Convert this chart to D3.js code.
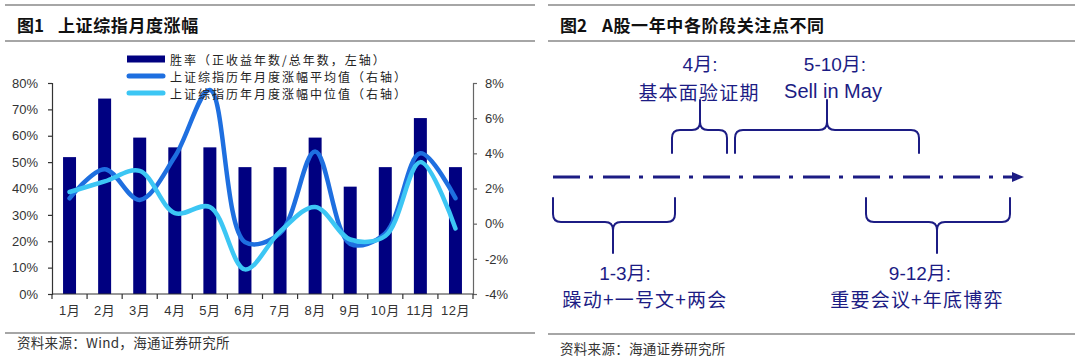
<!DOCTYPE html>
<html><head><meta charset="utf-8">
<script src="https://cdn.jsdelivr.net/npm/d3@7"></script>
<style>
html,body{margin:0;padding:0;background:#fff;}
svg{display:block;}
text{font-family:"Liberation Sans",Arial,"Noto Sans CJK SC",sans-serif;}
.cjk{font-family:"Noto Sans CJK SC","Liberation Sans",sans-serif;}
</style>
</head><body>
<svg id="chart" width="1080" height="360"></svg>
<script>
// ---------- data ----------
const months = ["1月","2月","3月","4月","5月","6月","7月","8月","9月","10月","11月","12月"];
const winRate = [0.519,0.741,0.593,0.556,0.556,0.481,0.481,0.593,0.407,0.481,0.667,0.481];
const meanChg = [1.44,3.1,1.35,3.8,7.6,-1.05,-0.55,4.1,-1.15,-0.55,4.0,1.45];
const medianChg = [1.8,2.4,3.0,0.6,0.95,-2.6,-0.45,0.95,-0.9,-0.7,3.5,-0.27];
const leftTicks = [0,0.1,0.2,0.3,0.4,0.5,0.6,0.7,0.8];
const rightTicks = [-4,-2,0,2,4,6,8];
const legendLabels = ["胜率（正收益年数/总年数，左轴）","上证综指历年月度涨幅平均值（右轴）","上证综指历年月度涨幅中位值（右轴）"];
const phaseTitles = ["1-3月:","4月:","5-10月:","9-12月:"];
const phaseDescs = ["躁动+一号文+两会","基本面验证期","Sell in May","重要会议+年底博弈"];

const svg = d3.select("#chart");
const C_BAR = "#000080", C_MEAN = "#1e6fe0", C_MED = "#3cc6f4";
const NAVY = "#1c1c84";

// ---------- panel frames ----------
function frame(x0, x1, title1, title2, t2x, footer, footY, lineBottom){
  const g = svg.append("g");
  g.append("line").attr("x1",x0).attr("x2",x1).attr("y1",5).attr("y2",5).attr("stroke","#888").attr("stroke-width",1.3);
  g.append("line").attr("x1",x0).attr("x2",x1).attr("y1",41).attr("y2",41).attr("stroke","#888").attr("stroke-width",1.3);
  g.append("line").attr("x1",x0).attr("x2",x1).attr("y1",lineBottom).attr("y2",lineBottom).attr("stroke","#888").attr("stroke-width",1.3);
  g.append("text").attr("class","cjk").attr("x",x0+12).attr("y",24).attr("dominant-baseline","central")
    .attr("font-size",17).attr("font-weight","bold").attr("fill","#111").text(title1);
  g.append("text").attr("class","cjk").attr("x",t2x).attr("y",24).attr("dominant-baseline","central")
    .attr("font-size",17).attr("font-weight","bold").attr("fill","#111").attr("letter-spacing",0.6).text(title2);
  g.append("text").attr("class","cjk").attr("x",x0+12).attr("y",footY).attr("dominant-baseline","central")
    .attr("font-size",13.5).attr("fill","#333").attr("letter-spacing",0.3).text(footer);
}
frame(5, 535, "图1", "上证综指月度涨幅", 58, "资料来源：Wind，海通证券研究所", 342, 333);
frame(548, 1075, "图2", "A股一年中各阶段关注点不同", 602, "资料来源：海通证券研究所", 348, 334);

// ---------- left chart ----------
const L = 52, R = 473, T = 83, B = 294;
const x = d3.scaleBand().domain(months).range([L,R]).paddingInner(0.63).paddingOuter(0.315);
const yL = d3.scaleLinear().domain([0,0.8]).range([B,T]);
const yR = d3.scaleLinear().domain([-4,8]).range([B,T]);
const cx = m => x(m) + x.bandwidth()/2;

const chart = svg.append("g");
chart.selectAll("rect.bar").data(months).join("rect").attr("class","bar")
  .attr("x",m=>x(m)).attr("width",x.bandwidth())
  .attr("y",(m,i)=>yL(winRate[i])).attr("height",(m,i)=>B-yL(winRate[i]))
  .attr("fill",C_BAR);

const line = d3.line().x((d,i)=>cx(months[i])).y(d=>yR(d)).curve(d3.curveCatmullRom.alpha(0.5));
chart.append("path").attr("d",line(meanChg)).attr("fill","none").attr("stroke",C_MEAN)
  .attr("stroke-width",4.5).attr("stroke-linecap","round").attr("stroke-linejoin","round");
chart.append("path").attr("d",line(medianChg)).attr("fill","none").attr("stroke",C_MED)
  .attr("stroke-width",4.5).attr("stroke-linecap","round").attr("stroke-linejoin","round");

// axes
const axL = chart.append("g").attr("transform",`translate(${L},0)`)
  .call(d3.axisLeft(yL).tickValues(leftTicks).tickFormat(d3.format(".0%")).tickSize(4).tickPadding(10));
const axR = chart.append("g").attr("transform",`translate(${R},0)`)
  .call(d3.axisRight(yR).tickValues(rightTicks).tickFormat(d=>d+"%").tickSize(4).tickPadding(8));
const axB = chart.append("g").attr("transform",`translate(0,${B})`)
  .call(d3.axisBottom(x).tickSize(0).tickPadding(12));
// boundary tick marks on x axis
const bounds = d3.range(months.length+1).map(i=>L + i*x.step());
axB.selectAll("line.bt").data(bounds).join("line").attr("class","bt")
  .attr("x1",d=>d).attr("x2",d=>d).attr("y1",0).attr("y2",5).attr("stroke","#333").attr("stroke-width",1.2);
[axL,axR,axB].forEach(a=>{
  a.select(".domain").attr("stroke","#333").attr("stroke-width",1.2);
  a.selectAll(".tick line").attr("stroke","#333").attr("stroke-width",1.2);
  a.selectAll("text").attr("font-size",13).attr("fill","#333")
   .attr("font-family",'"Liberation Sans","Noto Sans CJK SC",sans-serif');
});
axB.selectAll("text").attr("letter-spacing",0.5);
axR.select(".domain").attr("stroke","#666");
axR.selectAll(".tick line").attr("stroke","#666");
axB.select(".domain").attr("d",`M${L},0H${R}`);

// legend
const lg = chart.append("g");
const legRows = [59, 76, 93];
lg.append("rect").attr("x",127).attr("y",legRows[0]-3.5).attr("width",38).attr("height",7).attr("fill",C_BAR);
lg.append("line").attr("x1",129).attr("x2",163).attr("y1",legRows[1]).attr("y2",legRows[1])
  .attr("stroke",C_MEAN).attr("stroke-width",5).attr("stroke-linecap","round");
lg.append("line").attr("x1",129).attr("x2",163).attr("y1",legRows[2]).attr("y2",legRows[2])
  .attr("stroke",C_MED).attr("stroke-width",5).attr("stroke-linecap","round");
lg.selectAll("text").data(legendLabels).join("text").attr("class","cjk")
  .attr("x",170).attr("y",(d,i)=>legRows[i]).attr("dominant-baseline","central")
  .attr("font-size",12).attr("letter-spacing",2).attr("fill","#222").text(d=>d);

// ---------- right diagram ----------
const dg = svg.append("g");
const axisY = 177, ax0 = 553, ax1 = 1012;
dg.append("line").attr("x1",ax0).attr("x2",ax1).attr("y1",axisY).attr("y2",axisY)
  .attr("stroke",NAVY).attr("stroke-width",3.2).attr("stroke-dasharray","27,9,4,10");
dg.append("path").attr("d",`M${ax1},${axisY-5}L${ax1+12},${axisY}L${ax1},${axisY+5}Z`).attr("fill",NAVY);

function brace(x1,x2,xm,yEnd,yH,yTip){
  const s = Math.sign(yEnd - yH);
  const r = 8;
  return `M${x1},${yEnd} L${x1},${yH+s*r} Q${x1},${yH} ${x1+r},${yH} L${xm-r},${yH} Q${xm},${yH} ${xm},${yH-s*r} L${xm},${yTip}`+
         ` M${xm},${yH-s*r} Q${xm},${yH} ${xm+r},${yH} L${x2-r},${yH} Q${x2},${yH} ${x2},${yH+s*r} L${x2},${yEnd}`;
}
const phaseLayout = [
  {x1:553,x2:675,xm:613,up:false,tx1:625,tx2:645},
  {x1:672,x2:727,xm:700,up:true,tx1:700,tx2:699},
  {x1:735,x2:919,xm:827,up:true,tx1:835,tx2:833},
  {x1:866,x2:1010,xm:937,up:false,tx1:920,tx2:917}
];
phaseLayout.forEach((p,i)=>{
  const d = p.up ? brace(p.x1,p.x2,p.xm,153,130,100) : brace(p.x1,p.x2,p.xm,198,222,253);
  dg.append("path").attr("d",d).attr("fill","none").attr("stroke",NAVY).attr("stroke-width",2)
    .attr("stroke-linecap","round");
  const y1 = p.up ? 64 : 273, y2 = p.up ? 91 : 298;
  dg.append("text").attr("x",p.tx1).attr("y",y1).attr("text-anchor","middle").attr("dominant-baseline","central")
    .attr("font-size",19).attr("fill",NAVY).text(phaseTitles[i]);
  dg.append("text").attr("class", i===2 ? "" : "cjk").attr("x",p.tx2).attr("y",y2).attr("text-anchor","middle")
    .attr("dominant-baseline","central").attr("font-size",i===2?20:19).attr("letter-spacing",i===2?0:1.2)
    .attr("fill",NAVY).text(phaseDescs[i]);
});
</script>
</body></html>
